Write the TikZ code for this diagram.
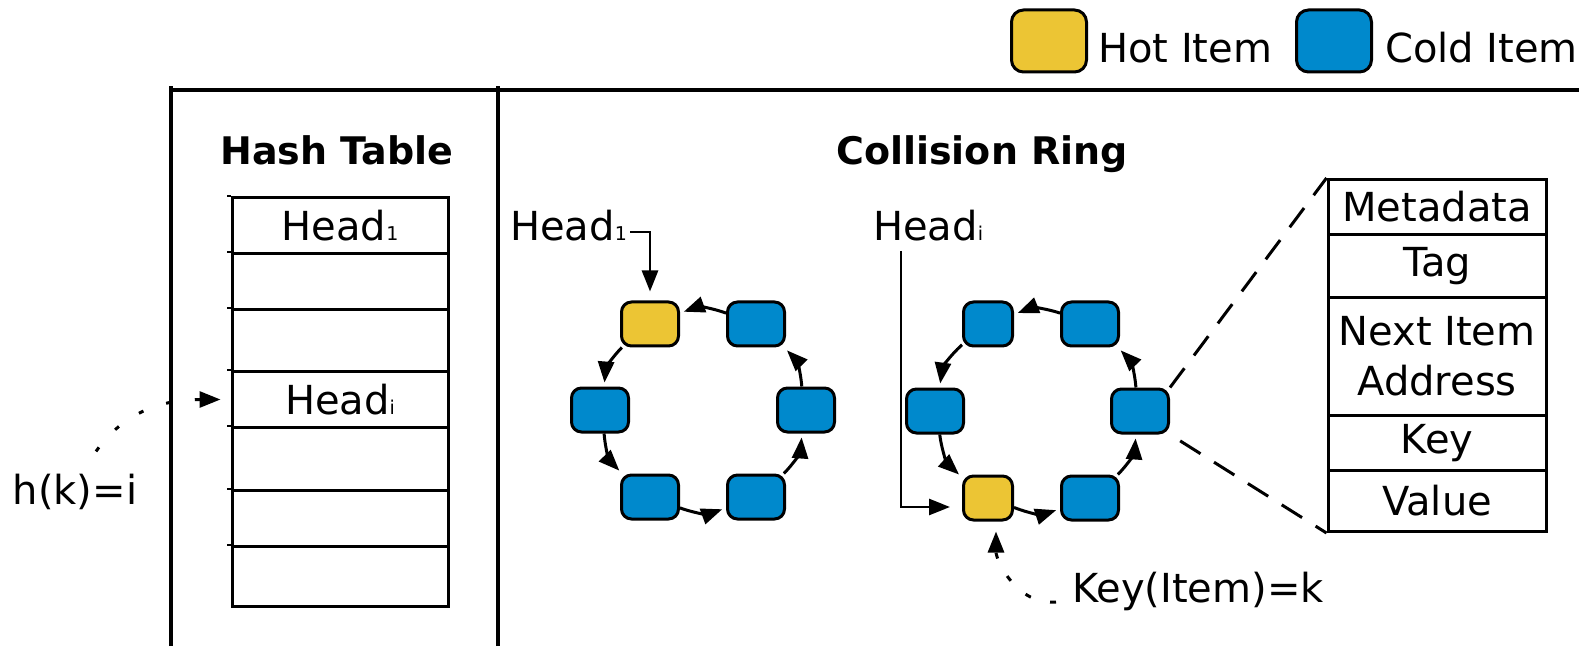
\documentclass[tikz,border=0pt]{standalone}
\usepackage{fontspec}
\setmainfont{DejaVu Sans}
\usetikzlibrary{arrows.meta,calc}

\definecolor{hotcol}{RGB}{236,197,52}
\definecolor{coldcol}{RGB}{0,137,204}
\newcommand{\hidx}[1]{{\fontsize{19}{19}\selectfont #1}}

\begin{document}
\begin{tikzpicture}[x=1pt,y=1pt,
    item/.style={draw,line width=3pt,rounded corners=10pt,minimum width=57pt,minimum height=44pt,inner sep=0pt},
    hot/.style={item,fill=hotcol},
    cold/.style={item,fill=coldcol},
    txt/.style={font=\fontsize{40}{48}\selectfont,inner sep=0pt},
    ttl/.style={font=\fontsize{38}{46}\selectfont\bfseries,inner sep=0pt},
    cell/.style={txt,draw,line width=3pt,minimum width=216pt,anchor=north},
    field/.style={txt,draw,line width=3pt,minimum width=218pt,anchor=north,align=center,font=\fontsize{40}{50}\selectfont},
    tip/.style={-{Triangle[length=21pt,width=16pt]}},
    link/.style={tip,line width=3pt,shorten >=4pt},
    ptr/.style={tip,line width=2.6pt,shorten >=9pt}]

  \useasboundingbox (0,0) rectangle (1579,646);

  % legend
  \node[hot,minimum width=75pt,minimum height=62pt,rounded corners=12pt] (lghot) at (1049,605) {};
  \node[txt,anchor=base west] (lghottxt) at (1098,583) {Hot Item};
  \node[cold,minimum width=75pt,minimum height=62pt,rounded corners=12pt] (lgcold) at (1334,605) {};
  \node[txt,anchor=base west] (lgcoldtxt) at (1385,583) {Cold Item};

  % frame
  \draw[line width=3.5pt] (171,0) -- (171,560);
  \draw[line width=3.5pt] (498,0) -- (498,560);
  \draw[line width=3.5pt] (171,556) -- (1579,556);

  \node[ttl,anchor=base] (httl) at (337,481) {Hash Table};
  \node[ttl,anchor=base] (crttl) at (982,481) {Collision Ring};

  % hash table
  \foreach \n/\t/\h/\lab in {1/450/56/Head\hidx{1}, 2/394/56/, 3/338/62/, 4/276/56/Head\hidx{i}, 5/220/63/, 6/157/56/, 7/101/60/}
    \node[cell,minimum height=\h pt] (row\n) at (340,\t) {\lab};
  \foreach \n in {1,...,7}
    \draw[line width=2.5pt] (row\n.north west) -- ++(-4,0);

  \node[txt,anchor=base] (hk) at (75,142) {h(k)=i};
  \draw[tip,line width=3pt,dash pattern=on 5pt off 24pt,shorten >=10pt]
    ([shift={(21,22)}]hk.north) to[out=55,in=180] (row4.west);

  % ring 1
  \node[hot]  (a1) at (650,322) {};
  \node[cold] (a2) at (600,236) {};
  \node[cold] (a3) at (650,149) {};
  \node[cold] (a4) at (756,149) {};
  \node[cold] (a5) at (806,236) {};
  \node[cold] (a6) at (756,322) {};
  \foreach \i/\j in {1/2,2/3,3/4,4/5,5/6,6/1}
    \draw[link] (a\i) to[bend right=20] (a\j);

  \node[txt,anchor=base west] (rh1) at (510,405) {Head\hidx{1}};
  \draw[ptr] ([xshift=3pt,yshift=-6pt]rh1.east) -| (a1.north);

  % ring 2
  \node[cold,minimum width=49pt] (b1) at (988,322) {};
  \node[cold] (b2) at (935,235) {};
  \node[hot,minimum width=49pt]  (b3) at (988,148) {};
  \node[cold] (b4) at (1090,148) {};
  \node[cold] (b5) at (1140,235) {};
  \node[cold] (b6) at (1090,322) {};
  \foreach \i/\j in {1/2,2/3,3/4,4/5,5/6,6/1}
    \draw[link] (b\i) to[bend right=20] (b\j);

  \node[txt,anchor=base west] (rhi) at (873,405) {Head\hidx{i}};
  \draw[ptr,shorten >=12pt] ([xshift=28pt,yshift=-10pt]rhi.base west) |- ([yshift=-9pt]b3.west);

  \node[txt,anchor=base west] (keyk) at (1072,44) {Key(Item)=k};
  \draw[tip,line width=3pt,dash pattern=on 6pt off 20pt,shorten >=10pt]
    ([xshift=-16pt]keyk.base west) to[out=185,in=-90] ([xshift=8pt]b3.south);

  % item layout
  \foreach \n/\t/\h/\lab in {1/468/55/Metadata, 2/413/63/Tag, 3/350/118/{Next Item\\Address}, 4/232/55/Key, 5/177/61/Value}
    \node[field,minimum height=\h pt] (f\n) at (1437,\t) {\lab};

  \draw[line width=3pt,dash pattern=on 24pt off 16pt] (b5.north east) -- (f1.north west);
  \draw[line width=3pt,dash pattern=on 24pt off 16pt,shorten <=12pt] (b5.south east) -- (f5.south west);

\end{tikzpicture}
\end{document}
